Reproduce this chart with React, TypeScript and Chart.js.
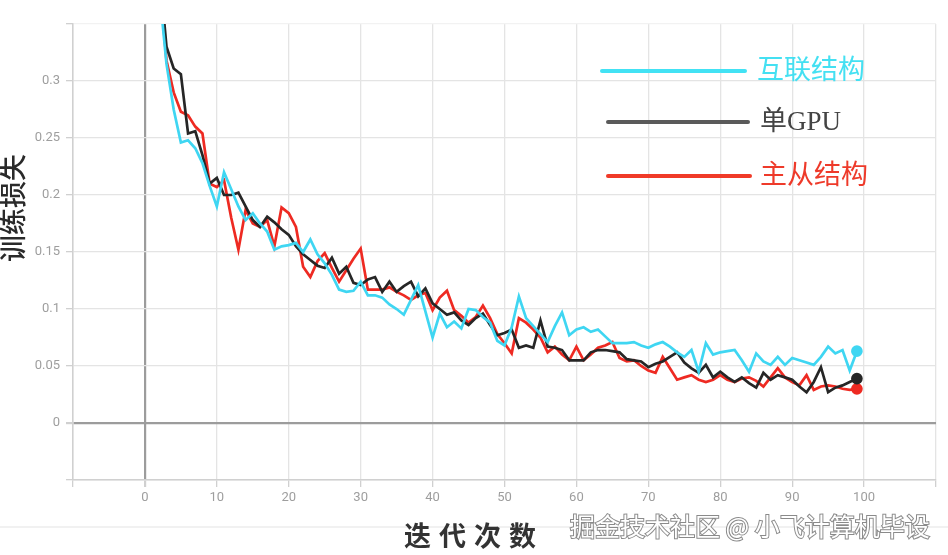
import React, { useEffect, useRef } from 'react';
import { Chart, registerables } from 'chart.js';

Chart.register(...registerables);

// iteration index of the first value in each series
const startIter = 2;

const seriesNames = ['互联结构', '单GPU', '主从结构'];

const interconnectLoss = [
  0.38, 0.315, 0.275, 0.246, 0.248, 0.241, 0.228, 0.208, 0.19, 0.22,
  0.205, 0.19, 0.178, 0.184, 0.175, 0.168, 0.152, 0.155, 0.156, 0.158,
  0.15, 0.161, 0.148, 0.14, 0.13, 0.117, 0.115, 0.116, 0.124, 0.112,
  0.112, 0.11, 0.104, 0.1, 0.095, 0.108, 0.121, 0.098, 0.075, 0.096,
  0.084, 0.089, 0.083, 0.1, 0.099, 0.093, 0.088, 0.072, 0.068, 0.084,
  0.111, 0.092, 0.085, 0.078, 0.071, 0.085, 0.097, 0.077, 0.082, 0.084,
  0.08, 0.082, 0.076, 0.07, 0.07, 0.07, 0.071, 0.068, 0.066, 0.069,
  0.071, 0.067, 0.062, 0.058, 0.064, 0.045, 0.07, 0.06, 0.062, 0.063,
  0.064, 0.055, 0.045, 0.061, 0.054, 0.051, 0.058, 0.051, 0.057, 0.055,
  0.053, 0.051, 0.058, 0.067, 0.061, 0.064, 0.046, 0.063,
];

const singleGpuLoss = [
  0.4, 0.33, 0.311, 0.306, 0.254, 0.256, 0.235, 0.21, 0.215, 0.2,
  0.2, 0.202, 0.19, 0.178, 0.172, 0.181, 0.176, 0.17, 0.165, 0.155,
  0.148, 0.143, 0.138, 0.136, 0.145, 0.131, 0.137, 0.123, 0.121, 0.126,
  0.128, 0.115, 0.124, 0.115, 0.12, 0.124, 0.111, 0.118, 0.105, 0.1,
  0.095, 0.097, 0.09, 0.086, 0.092, 0.096, 0.086, 0.077, 0.079, 0.082,
  0.066, 0.068, 0.066, 0.09, 0.067, 0.066, 0.064, 0.055, 0.055, 0.055,
  0.062, 0.064, 0.064, 0.063, 0.062, 0.056, 0.055, 0.054, 0.049, 0.052,
  0.054, 0.058, 0.062, 0.053, 0.048, 0.044, 0.051, 0.04, 0.045, 0.04,
  0.036, 0.04, 0.035, 0.031, 0.044, 0.038, 0.042, 0.04, 0.038, 0.032,
  0.027, 0.036, 0.049, 0.027, 0.031, 0.033, 0.036, 0.039,
];

const masterSlaveLoss = [
  0.39, 0.318, 0.29, 0.273, 0.27, 0.26, 0.254, 0.21, 0.207, 0.213,
  0.18, 0.152, 0.187, 0.175, 0.172, 0.178, 0.155, 0.189, 0.184, 0.172,
  0.137, 0.128, 0.142, 0.149, 0.136, 0.124, 0.134, 0.144, 0.153, 0.117,
  0.117, 0.117, 0.119, 0.115, 0.112, 0.108, 0.112, 0.114, 0.099, 0.11,
  0.116, 0.099, 0.094, 0.088, 0.093, 0.103, 0.092, 0.078, 0.07, 0.061,
  0.092, 0.088, 0.082, 0.075, 0.062, 0.067, 0.06, 0.055, 0.067, 0.055,
  0.06, 0.066, 0.068, 0.071, 0.057, 0.054, 0.055, 0.05, 0.046, 0.044,
  0.058, 0.048, 0.038, 0.04, 0.042, 0.038, 0.036, 0.038, 0.042, 0.038,
  0.036, 0.039, 0.04, 0.037, 0.032, 0.04, 0.048, 0.04, 0.036, 0.033,
  0.042, 0.029, 0.032, 0.033, 0.032, 0.03, 0.029, 0.03,
];

const lineColors = ['#3fd6f2', '#262626', '#ee2a22'];
const legendLineColors = ['#42e2f4', '#5a5a5a', '#f03a28'];
const legendTextColors = ['#44e0f2', '#444444', '#ee3a2a'];

const toPoints = (values: number[]) => values.map((y, i) => ({ x: startIter + i, y }));

// titles, custom legend and watermark drawn straight on the canvas
const decorations = {
  id: 'decorations',
  afterDraw(chart: Chart) {
    const ctx = chart.ctx;
    ctx.save();

    // y title
    ctx.translate(13, 208);
    ctx.rotate(-Math.PI / 2);
    ctx.font = '500 27px "Noto Sans CJK SC"';
    ctx.fillStyle = '#2a2a2a';
    ctx.textAlign = 'center';
    ctx.textBaseline = 'middle';
    ctx.fillText('训练损失', 0, 0);
    ctx.setTransform(1, 0, 0, 1, 0, 0);
    ctx.scale(chart.currentDevicePixelRatio, chart.currentDevicePixelRatio);

    // separator line near the bottom
    ctx.strokeStyle = '#ececec';
    ctx.lineWidth = 1.5;
    ctx.beginPath();
    ctx.moveTo(0, 527);
    ctx.lineTo(948, 527);
    ctx.stroke();

    // x title
    ctx.font = 'bold 27px "Noto Sans CJK SC"';
    ctx.fillStyle = '#333333';
    ctx.textAlign = 'left';
    ctx.textBaseline = 'middle';
    const xTitle = '迭代次数';
    for (let i = 0; i < xTitle.length; i++) {
      ctx.fillText(xTitle[i], 404 + i * 35, 536);
    }

    // watermark
    ctx.font = '25px "Noto Sans CJK SC"';
    ctx.lineWidth = 2;
    ctx.strokeStyle = '#8a8a8a';
    ctx.fillStyle = '#ffffff';
    ctx.strokeText('掘金技术社区 @ 小飞计算机毕设', 570, 526);
    ctx.fillText('掘金技术社区 @ 小飞计算机毕设', 570, 526);

    // legend
    const rows = [
      { x1: 602, x2: 745, y: 71, tx: 757 },
      { x1: 608, x2: 748, y: 122, tx: 760 },
      { x1: 608, x2: 750, y: 176, tx: 760 },
    ];
    ctx.lineCap = 'round';
    ctx.lineWidth = 4;
    rows.forEach((r, i) => {
      ctx.strokeStyle = legendLineColors[i];
      ctx.beginPath();
      ctx.moveTo(r.x1, r.y);
      ctx.lineTo(r.x2, r.y);
      ctx.stroke();
      ctx.font = '27px "Liberation Serif", "Noto Sans CJK SC"';
      ctx.fillStyle = legendTextColors[i];
      ctx.fillText(seriesNames[i], r.tx, r.y + 1);
    });

    ctx.restore();
  },
};

const App = () => {
  const canvasRef = useRef<HTMLCanvasElement | null>(null);
  const chartRef = useRef<Chart | null>(null);

  useEffect(() => {
    if (!canvasRef.current) return;
    if (chartRef.current) chartRef.current.destroy();

    const allSeries = [interconnectLoss, singleGpuLoss, masterSlaveLoss];

    chartRef.current = new Chart(canvasRef.current, {
      type: 'line',
      data: {
        datasets: allSeries.map((values, i) => ({
          label: seriesNames[i],
          data: toPoints(values),
          borderColor: lineColors[i],
          backgroundColor: lineColors[i],
          borderWidth: 2.7,
          tension: 0,
          pointRadius: values.map((_, j) => (j === values.length - 1 ? 4.5 : 0)),
          pointHoverRadius: 0,
        })),
      },
      options: {
        animation: false,
        responsive: true,
        maintainAspectRatio: false,
        layout: { padding: { top: 24, right: 12 } },
        plugins: {
          legend: { display: false },
          tooltip: { enabled: false },
        },
        scales: {
          x: {
            type: 'linear',
            min: -10,
            max: 110,
            afterFit: (scale: any) => {
              scale.height = 75;
            },
            border: { display: true, color: '#d0d0d0', width: 1.5 },
            grid: {
              color: (c: any) => (c.tick && c.tick.value === 0 ? '#9c9c9c' : '#e4e4e4'),
              lineWidth: (c: any) => (c.tick && c.tick.value === 0 ? 2.2 : 1.3),
              tickLength: 7,
              tickColor: '#d0d0d0',
            },
            ticks: {
              stepSize: 10,
              padding: 3,
              color: '#9e9e9e',
              font: { family: 'Roboto', size: 13 },
              maxRotation: 0,
              callback: (v: any) => (v === -10 || v === 110 ? '' : String(v)),
            },
          },
          y: {
            type: 'linear',
            min: -0.05,
            max: 0.35,
            afterFit: (scale: any) => {
              scale.width = 73;
            },
            border: { display: true, color: '#d0d0d0', width: 1.5 },
            grid: {
              color: (c: any) => {
                if (!c.tick) return '#e4e4e4';
                if (Math.abs(c.tick.value) < 1e-9) return '#9c9c9c';
                if (c.tick.value > 0.34) return '#f2f2f2';
                return '#e4e4e4';
              },
              lineWidth: (c: any) => (c.tick && Math.abs(c.tick.value) < 1e-9 ? 2.2 : 1.3),
              tickLength: 7,
              tickColor: '#d0d0d0',
            },
            ticks: {
              stepSize: 0.05,
              padding: 6,
              color: '#9e9e9e',
              font: { family: 'Roboto', size: 13 },
              callback: (v: any) => {
                const n = Number(Number(v).toFixed(2));
                if (n < 0 || n > 0.34) return '';
                return String(n);
              },
            },
          },
        },
      },
      plugins: [decorations],
    });

    return () => {
      if (chartRef.current) {
        chartRef.current.destroy();
        chartRef.current = null;
      }
    };
  }, []);

  return (
    <div style={{ position: 'absolute', left: 0, top: 0, width: 948, height: 555, background: '#fff' }}>
      <canvas ref={canvasRef}></canvas>
    </div>
  );
};

export default App;
